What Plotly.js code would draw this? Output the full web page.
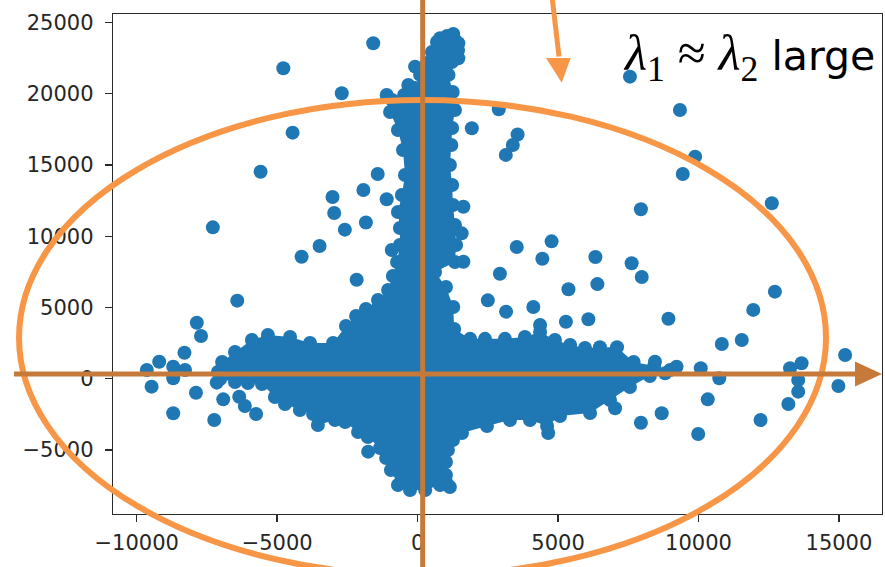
<!DOCTYPE html>
<html>
<head>
<meta charset="utf-8">
<script src="https://cdn.plot.ly/plotly-3.0.1.min.js"></script>
<style>html,body{margin:0;padding:0;background:#fff;}#chart{width:885px;height:567px;}</style>
</head>
<body>
<div id="chart"></div>
<script>
// Dense core of the point cloud: ordered outline of edge points (x, y)
const coreOutline = [
[1050,24040],[1330,23760],[1440,23060],[1220,22220],[1100,21310],[1250,20110],[1330,18850],[1230,17590],[1200,16400],[1150,14990],[1230,13590],[1260,12190],[1330,10790],[1370,9380],[1330,8190],[620,7490],[1010,6440],[1270,5030],[1300,3500],[1870,2800],[2400,2800],[3110,2800],[3820,2930],[4360,3280],[4890,2720],[5430,2370],[5960,2160],[6490,2220],[7100,2220],[7690,1180],[8420,900],[8990,620],[8270,200],[7560,-570],[6850,-1490],[6140,-2400],[5070,-2610],[4610,-3310],[4000,-2890],[3290,-2890],[2470,-3310],[1580,-3800],[1260,-4290],[1080,-4990],[1010,-5830],[1010,-6750],[800,-7450],[270,-7800],[-270,-7800],[-700,-7450],[-950,-6400],[-1120,-5550],[-1340,-4850],[-1770,-4080],[-2120,-3730],[-2580,-3030],[-2940,-2890],[-3550,-3240],[-3720,-2470],[-4190,-2190],[-4720,-1770],[-5080,-1280],[-5540,-360],[-6040,-290],[-6500,-220],[-7030,-10],[-7110,480],[-6960,1180],[-6500,1880],[-5900,2720],[-5330,3070],[-4540,2930],[-3830,2510],[-3010,2510],[-2550,3700],[-2190,4400],[-1840,4900],[-1410,5530],[-1050,6230],[-880,7210],[-730,8190],[-630,9380],[-630,10580],[-700,11700],[-560,12890],[-450,14290],[-520,16050],[-700,17450],[-980,18710],[-910,19550],[-480,19900],[-90,20390],[90,21310],[330,22150],[510,22920],[690,23620]
];
// Scattered points outside the dense core (x, y)
const outliers = [
[-1580,23530],[-4780,21780],[-2700,20020],[-90,21890],[-330,20600],[-1100,19900],[-4450,17260],[-5590,14520],[-1420,14360],[-1930,13240],[-3030,12750],[-2970,11630],[-1840,10960],[-2590,10460],[-7290,10620],[-3490,9310],[-4130,8560],[-2170,6950],[-1100,12590],[-920,9030],
[1270,24180],[800,23880],[1450,23530],[1450,22480],[800,22830],[560,22130],[440,21190],[1040,21430],
[1930,17570],[2890,18900],[3560,17130],[3390,16400],[3140,15700],[1630,12070],[1570,10200],[3530,9240],[4770,9640],[4440,8420],[6330,8540],[7620,8100],[7980,7140],[2930,7370],[6400,6640],[5370,6280],[12720,6110],[1630,8210],
[7560,21190],[9340,18850],[9880,15580],[9440,14360],[12610,12310],[7950,11890],
[11950,4830],[8930,4210],[11540,2720],[10830,2440],[15220,1670],[14980,-510],[13670,1090],[13260,740],[13550,-80],[13550,-900],[13200,-1770],[12210,-2890],[10740,40],[10080,740],[10330,-1440],[9990,-3870],[8690,-2420],[7950,-3080],[9220,850],[8450,1200],[8810,390],
[2500,5500],[3150,4710],[4120,5040],[6080,4180],[4360,3770],[5280,4000],[7030,-2070],[4650,-3800],[1040,-7330],[1150,-7590],
[-6420,5480],[-7860,3930],[-7710,3000],[-8300,1830],[-9200,1200],[-9640,620],[-8700,850],[-8280,620],[-8700,40],[-9470,-550],[-7890,-980],[-7150,-270],[-8700,-2420],[-7240,-2890],[-6920,-1440],[-6350,-1260],[-6150,-1910],[-5750,-2470],[-1760,-5110]
];
const xTickVals = [-10000,-5000,0,5000,10000,15000];
const xTickText = ['\u221210000','\u22125000','0','5000','10000','15000'];
const yTickVals = [-5000,0,5000,10000,15000,20000,25000];
const yTickText = ['\u22125000','0','5000','10000','15000','20000','25000'];
const labelText = '<span style="font-family:\'Liberation Serif\';font-size:51px"><i>\u03bb</i><sub>1</sub> \u2248 <i>\u03bb</i><sub>2</sub></span> large';

const blue = '#1f77b4';
const orange = '#F79646';
const darkOrange = '#C67A3A';

const coreX = coreOutline.map(p => p[0]);
const coreY = coreOutline.map(p => p[1]);
const outX = outliers.map(p => p[0]);
const outY = outliers.map(p => p[1]);

const traces = [
  {x: coreX.concat([coreX[0]]), y: coreY.concat([coreY[0]]), type: 'scatter', mode: 'lines',
   fill: 'toself', fillcolor: blue, line: {width: 0, color: blue}, hoverinfo: 'skip'},
  {x: coreX, y: coreY, type: 'scatter', mode: 'markers', marker: {size: 14, color: blue}},
  {x: outX, y: outY, type: 'scatter', mode: 'markers', marker: {size: 14, color: blue}}
];

const axisCommon = {
  showgrid: false, zeroline: false, showline: true, mirror: true,
  linecolor: '#2a2a2a', linewidth: 1.3, ticks: 'outside', ticklen: 7,
  tickwidth: 1.3, tickcolor: '#2a2a2a',
  tickfont: {family: 'DejaVu Sans', size: 21, color: '#262626'}
};

const layout = {
  width: 885, height: 567,
  margin: {l: 113, r: 3, t: 14, b: 53},
  paper_bgcolor: '#fff', plot_bgcolor: '#fff',
  showlegend: false,
  xaxis: Object.assign({}, axisCommon, {range: [-10844, 16533], tickmode: 'array',
    tickvals: xTickVals, ticktext: xTickText, ticklabelstandoff: 2}),
  yaxis: Object.assign({}, axisCommon, {range: [-9481, 25582], tickmode: 'array',
    tickvals: yTickVals, ticktext: yTickText, ticklabelstandoff: 7}),
  shapes: [
    {type: 'circle', xref: 'paper', yref: 'paper', x0: -0.1222, x1: 0.9272, y0: -0.1232, y1: 0.828,
     line: {color: orange, width: 6}},
    {type: 'line', xref: 'paper', yref: 'paper', x0: 0.4027, x1: 0.4027, y0: -0.2, y1: 1.1,
     line: {color: darkOrange, width: 5}},
    {type: 'line', xref: 'paper', yref: 'paper', x0: -0.1287, x1: 0.967, y0: 0.28, y1: 0.28,
     line: {color: darkOrange, width: 5}},
    {type: 'path', xref: 'paper', yref: 'paper', path: 'M 0.9649 0.305 L 1.0 0.28 L 0.9649 0.255 Z',
     fillcolor: darkOrange, line: {width: 0}},
    {type: 'line', xref: 'paper', yref: 'paper', x0: 0.5705, x1: 0.5800, y0: 1.04, y1: 0.915,
     line: {color: orange, width: 5}},
    {type: 'path', xref: 'paper', yref: 'paper', path: 'M 0.5631 0.912 L 0.5952 0.912 L 0.5835 0.8626 Z',
     fillcolor: orange, line: {width: 0}}
  ],
  annotations: [
    {xref: 'paper', yref: 'paper', x: 0.9935, y: 0.914, xanchor: 'right', yanchor: 'middle',
     showarrow: false, text: labelText, font: {family: 'DejaVu Sans', size: 41, color: '#000'}}
  ]
};

Plotly.newPlot('chart', traces, layout, {displayModeBar: false, staticPlot: true});
</script>
</body>
</html>
